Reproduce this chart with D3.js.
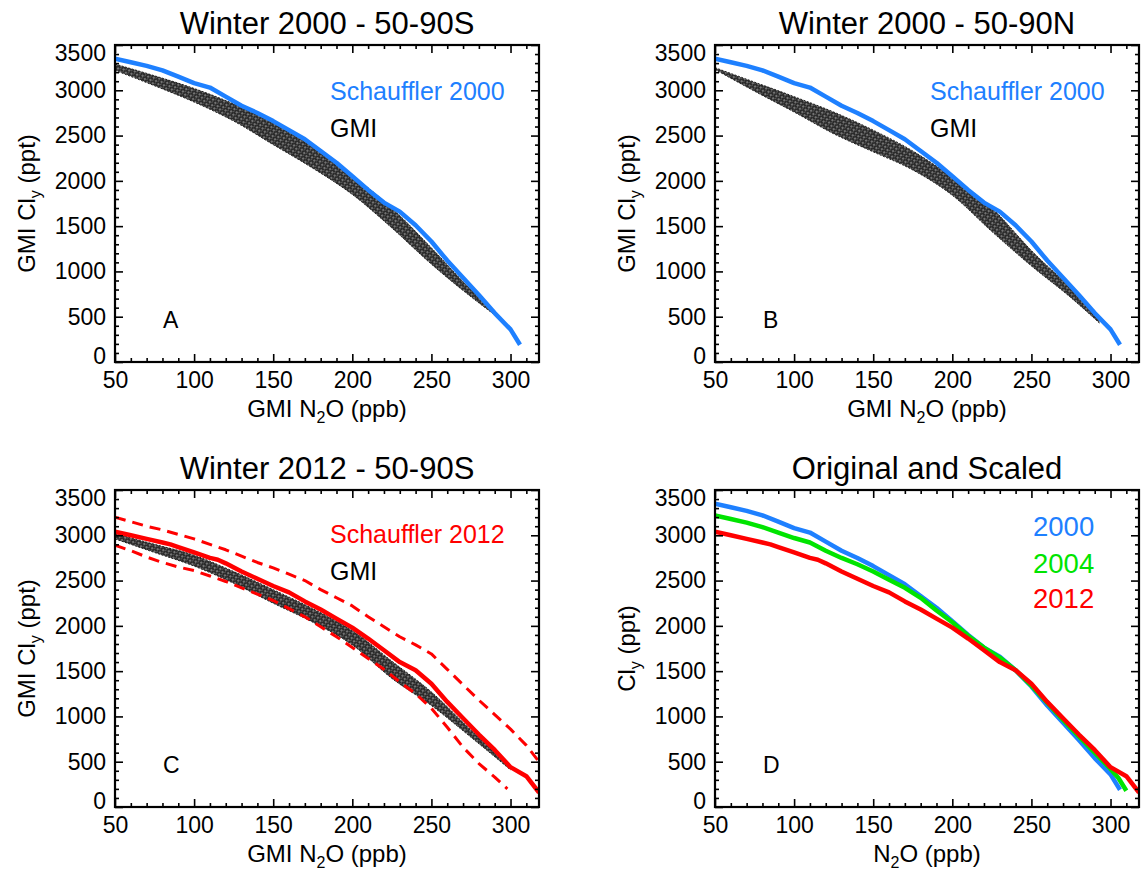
<!DOCTYPE html>
<html>
<head>
<meta charset="utf-8">
<script src="https://d3js.org/d3.v7.min.js"></script>
<style>
body { margin: 0; background: #fff; }
svg { display: block; font-family: Arial, "Liberation Sans", Helvetica, sans-serif; }
.frame { fill: none; stroke: #000; stroke-width: 2.2; }
.axis path { display: none; }
.axis line { stroke: #000; stroke-width: 1.6; }
.axis text { font-size: 23px; fill: #000; font-family: Arial, "Liberation Sans", sans-serif; }
.title { font-size: 31px; text-anchor: middle; }
.atitle { font-size: 24px; text-anchor: middle; }
.letter { font-size: 23px; }
</style>
</head>
<body>
<svg id="chart" width="1145" height="873">
  <defs>
    <pattern id="speck" width="4" height="4" patternUnits="userSpaceOnUse" patternTransform="rotate(-35)">
      <rect width="4" height="4" fill="#2a2a2a"/>
      <circle cx="1" cy="1" r="0.75" fill="#fff" opacity="0.85"/>
      <circle cx="3" cy="2.6" r="0.5" fill="#eee" opacity="0.6"/>
    </pattern>
  </defs>
</svg>
<script>
// axis ticks
const xTicks = [50, 100, 150, 200, 250, 300];
const yTicks = [0, 500, 1000, 1500, 2000, 2500, 3000, 3500];
const xMinor = [60, 70, 80, 90, 110, 120, 130, 140, 160, 170, 180, 190, 210, 220, 230, 240, 260, 270, 280, 290, 310];
const yMinor = [100, 200, 300, 400, 600, 700, 800, 900, 1100, 1200, 1300, 1400, 1600, 1700, 1800, 1900,
                2100, 2200, 2300, 2400, 2600, 2700, 2800, 2900, 3100, 3200, 3300, 3400];

// Schauffler 2000 (blue)
const n2o2000 = [50, 60, 70, 80, 90, 100, 110, 120, 130, 140, 150, 160, 170, 180, 190, 200, 210, 220, 230, 240, 250, 260, 270, 280, 290, 300, 306];
const cly2000 = [3350, 3310, 3270, 3220, 3150, 3080, 3030, 2930, 2830, 2750, 2660, 2560, 2460, 2330, 2200, 2050, 1900, 1760, 1660, 1510, 1330, 1120, 930, 740, 540, 360, 190];

// scaled 2004 (green)
const n2o2004 = [50, 60, 70, 80, 90, 100, 110, 120, 130, 140, 150, 160, 170, 180, 190, 200, 210, 220, 230, 240, 250, 260, 270, 280, 290, 300, 305, 310];
const cly2004 = [3220, 3180, 3140, 3090, 3030, 2970, 2920, 2830, 2750, 2680, 2600, 2510, 2420, 2310, 2170, 2040, 1890, 1760, 1650, 1510, 1340, 1150, 960, 780, 600, 420, 320, 180];

// Schauffler 2012 (red) and its dashed bounds
const n2o2012 = [50, 60, 70, 80, 85, 90, 100, 110, 115, 120, 130, 140, 150, 160, 170, 180, 190, 200, 210, 220, 230, 240, 250, 260, 270, 280, 290, 300, 310, 318];
const cly2012 = [3040, 3000, 2960, 2920, 2900, 2870, 2810, 2750, 2730, 2690, 2600, 2520, 2440, 2370, 2270, 2180, 2080, 1980, 1860, 1730, 1600, 1510, 1360, 1160, 980, 800, 630, 440, 340, 160];
const n2oHi2012 = [50, 60, 70, 80, 90, 100, 110, 120, 130, 140, 150, 160, 170, 180, 190, 200, 210, 220, 230, 240, 250, 260, 270, 280, 290, 300, 310, 318];
const clyHi2012 = [3200, 3150, 3100, 3060, 3010, 2960, 2900, 2840, 2770, 2700, 2640, 2570, 2500, 2400, 2310, 2220, 2100, 1990, 1880, 1790, 1690, 1520, 1350, 1180, 1020, 860, 680, 500];
const n2oLo2012 = [50, 60, 70, 80, 90, 100, 110, 120, 130, 140, 150, 160, 170, 180, 190, 200, 210, 220, 230, 240, 250, 260, 270, 280, 290, 298];
const clyLo2012 = [2890, 2830, 2760, 2700, 2650, 2610, 2550, 2490, 2420, 2350, 2280, 2190, 2100, 1990, 1880, 1760, 1640, 1520, 1380, 1250, 1090, 880, 660, 480, 330, 200];

// GMI scatter envelopes (upper / lower edge of the cloud)
const gmiN2oA = [50, 75, 100, 125, 150, 175, 200, 225, 250, 275, 290];
const gmiUpA  = [3290, 3160, 3020, 2850, 2640, 2380, 2060, 1700, 1260, 800, 560];
const gmiLoA  = [3220, 3050, 2870, 2660, 2400, 2140, 1850, 1480, 1080, 720, 520];
const gmiN2oB = [50, 75, 100, 125, 150, 175, 200, 225, 250, 275, 293];
const gmiUpB  = [3250, 3090, 2930, 2760, 2560, 2330, 2040, 1700, 1230, 810, 460];
const gmiLoB  = [3230, 2990, 2760, 2520, 2320, 2120, 1840, 1440, 1060, 710, 430];
const gmiN2oC = [50, 75, 100, 125, 150, 175, 200, 225, 250, 275, 300];
const gmiUpC  = [3020, 2900, 2780, 2600, 2400, 2190, 1950, 1610, 1270, 850, 450];
const gmiLoC  = [2960, 2810, 2660, 2470, 2250, 2040, 1790, 1420, 1120, 770, 410];

const BLUE = "#1e80ff", GREEN = "#00e400", RED = "#ff0000";
const W = 424, H = 317;

const panels = [
  {x: 115, y: 45, title: "Winter 2000 - 50-90S", letter: "A", gmi: [gmiN2oA, gmiUpA, gmiLoA],
   xLab: ["GMI N", "O (ppb)"], yLab: ["GMI Cl", " (ppt)"],
   lines: [{n: n2o2000, c: cly2000, color: BLUE, w: 4.5}],
   legend: {dx: 215, dy: [55, 92], size: 25, items: [["Schauffler 2000", BLUE], ["GMI", "#000"]]}},
  {x: 715, y: 45, title: "Winter 2000 - 50-90N", letter: "B", gmi: [gmiN2oB, gmiUpB, gmiLoB],
   xLab: ["GMI N", "O (ppb)"], yLab: ["GMI Cl", " (ppt)"],
   lines: [{n: n2o2000, c: cly2000, color: BLUE, w: 4.5}],
   legend: {dx: 215, dy: [55, 92], size: 25, items: [["Schauffler 2000", BLUE], ["GMI", "#000"]]}},
  {x: 115, y: 490, title: "Winter 2012 - 50-90S", letter: "C", gmi: [gmiN2oC, gmiUpC, gmiLoC],
   xLab: ["GMI N", "O (ppb)"], yLab: ["GMI Cl", " (ppt)"],
   lines: [{n: n2oHi2012, c: clyHi2012, color: RED, w: 3, dash: "11,7"},
           {n: n2oLo2012, c: clyLo2012, color: RED, w: 3, dash: "11,7"},
           {n: n2o2012, c: cly2012, color: RED, w: 4.5}],
   legend: {dx: 215, dy: [53, 90], size: 25, items: [["Schauffler 2012", RED], ["GMI", "#000"]]}},
  {x: 715, y: 490, title: "Original and Scaled", letter: "D", gmi: null,
   xLab: ["N", "O (ppb)"], yLab: ["Cl", " (ppt)"],
   lines: [{n: n2o2000, c: cly2000, color: BLUE, w: 4.5},
           {n: n2o2004, c: cly2004, color: GREEN, w: 4.5},
           {n: n2o2012, c: cly2012, color: RED, w: 4.5}],
   legend: {dx: 318, dy: [46, 83, 118], size: 27.5, items: [["2000", BLUE], ["2004", GREEN], ["2012", RED]]}}
];

const svg = d3.select("#chart");
const x = d3.scaleLinear().domain([50, 318]).range([0, W]);
const y = d3.scaleLinear().domain([0, 3500]).range([H, 0]);
const fmt = d3.format("d");

const line = d3.line().x(d => x(d[0])).y(d => y(d[1]));
const area = d3.area().curve(d3.curveMonotoneX)
  .x(d => x(d[0])).y0(d => y(d[2])).y1(d => y(d[1]));
const edge = d3.line().curve(d3.curveMonotoneX).x(d => x(d[0]));

panels.forEach((p, i) => {
  const g = svg.append("g").attr("transform", `translate(${p.x},${p.y})`);

  g.append("clipPath").attr("id", "clip" + i)
    .append("rect").attr("width", W).attr("height", H);
  const plot = g.append("g").attr("clip-path", `url(#clip${i})`);

  if (p.gmi) {
    const pts = d3.zip(p.gmi[0], p.gmi[1], p.gmi[2]);
    plot.append("path").datum(pts).attr("d", area)
      .attr("fill", "url(#speck)").attr("stroke", "none");
    plot.append("path").datum(pts).attr("d", edge.y(d => y(d[1])))
      .attr("fill", "none").attr("stroke", "#222").attr("stroke-width", 1)
      .attr("stroke-dasharray", "2,1.5");
    plot.append("path").datum(pts).attr("d", edge.y(d => y(d[2])))
      .attr("fill", "none").attr("stroke", "#222").attr("stroke-width", 1)
      .attr("stroke-dasharray", "2,1.5");
  }

  p.lines.forEach(l => {
    plot.append("path").datum(d3.zip(l.n, l.c)).attr("d", line)
      .attr("fill", "none").attr("stroke", l.color).attr("stroke-width", l.w)
      .attr("stroke-linejoin", "round")
      .attr("stroke-dasharray", l.dash || null);
  });

  // axes, ticks inward on all four sides
  g.append("g").attr("class", "axis").attr("transform", `translate(0,${H})`)
    .call(d3.axisBottom(x).tickValues(xTicks).tickSize(-8).tickPadding(10).tickFormat(fmt));
  g.append("g").attr("class", "axis").attr("transform", `translate(0,${H})`)
    .call(d3.axisBottom(x).tickValues(xMinor).tickSize(-4).tickFormat(""));
  g.append("g").attr("class", "axis")
    .call(d3.axisTop(x).tickValues(xTicks).tickSize(-8).tickFormat(""));
  g.append("g").attr("class", "axis")
    .call(d3.axisTop(x).tickValues(xMinor).tickSize(-4).tickFormat(""));

  const left = g.append("g").attr("class", "axis")
    .call(d3.axisLeft(y).tickValues(yTicks).tickSize(-8).tickPadding(9).tickFormat(fmt));
  left.selectAll("text").attr("transform", d => d === 0 ? "translate(0,-6)" : d === 3500 ? "translate(0,8)" : null);
  g.append("g").attr("class", "axis")
    .call(d3.axisLeft(y).tickValues(yMinor).tickSize(-4).tickFormat(""));
  g.append("g").attr("class", "axis").attr("transform", `translate(${W},0)`)
    .call(d3.axisRight(y).tickValues(yTicks).tickSize(-8).tickFormat(""));
  g.append("g").attr("class", "axis").attr("transform", `translate(${W},0)`)
    .call(d3.axisRight(y).tickValues(yMinor).tickSize(-4).tickFormat(""));

  g.append("rect").attr("class", "frame").attr("width", W).attr("height", H);

  // titles
  g.append("text").attr("class", "title").attr("x", W / 2).attr("y", -11).text(p.title);

  const xt = g.append("text").attr("class", "atitle").attr("x", W / 2).attr("y", H + 55);
  xt.append("tspan").text(p.xLab[0]);
  xt.append("tspan").attr("dy", 6).attr("font-size", 16).text("2");
  xt.append("tspan").attr("dy", -6).text(p.xLab[1]);

  const yt = g.append("text").attr("class", "atitle")
    .attr("transform", `translate(-80,${H / 2}) rotate(-90)`);
  yt.append("tspan").text(p.yLab[0]);
  yt.append("tspan").attr("dy", 6).attr("font-size", 16).text("y");
  yt.append("tspan").attr("dy", -6).text(p.yLab[1]);

  // legend text
  p.legend.items.forEach((it, k) => {
    g.append("text").attr("x", p.legend.dx).attr("y", p.legend.dy[k])
      .attr("font-size", p.legend.size).attr("fill", it[1]).text(it[0]);
  });

  g.append("text").attr("class", "letter").attr("x", 48).attr("y", 283).text(p.letter);
});
</script>
</body>
</html>
